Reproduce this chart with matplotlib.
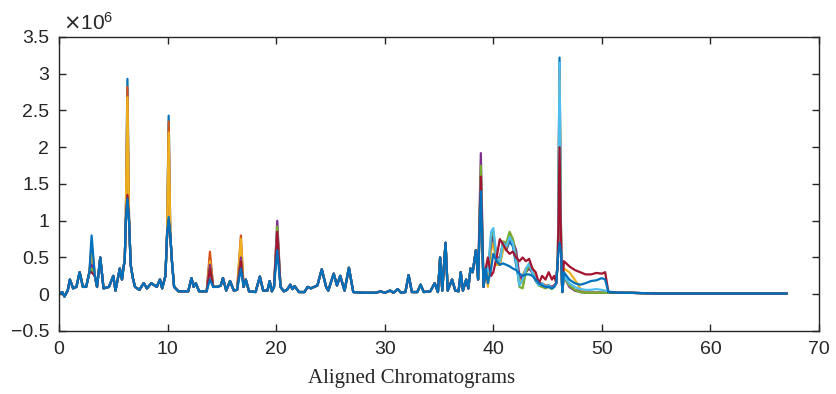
import numpy as np
import matplotlib
matplotlib.use('Agg')
import matplotlib.pyplot as plt
from matplotlib.ticker import FuncFormatter

# ---------------- data (intensity in units of 1e6) ----------------
# shared baseline profile: retention time knots and typical intensity
rt = [0.0, 0.3, 0.5, 0.8, 1.0, 1.3, 1.6, 1.9, 2.2, 2.5, 2.8, 3.3, 3.5, 3.8, 4.1,
      4.6, 5.0, 5.2, 5.6, 5.8, 5.95, 6.05, 6.15, 6.45, 6.6, 6.8, 7.0, 7.4, 7.8,
      8.1, 8.5, 9.0, 9.3, 9.5, 9.8, 9.95, 10.25, 10.4, 10.6, 11.0, 11.9, 12.2,
      12.4, 12.6, 12.9, 13.6, 14.2, 14.6, 14.9, 15.1, 15.4, 15.75, 16.1, 16.4,
      17.0, 17.2, 17.5, 18.1, 18.5, 18.8, 19.2, 19.4, 19.6, 19.8, 20.4, 20.7,
      21.0, 21.3, 21.5, 21.7, 22.1, 22.6, 22.9, 23.2, 23.5, 23.8, 24.2, 24.6,
      24.8, 25.3, 25.6, 25.9, 26.3, 26.7, 27.1, 28.0, 29.2, 29.6, 30.0, 30.5,
      30.8, 31.2, 31.5, 31.9, 32.2, 32.5, 33.0, 33.3, 33.6, 34.2, 34.6, 34.9,
      35.1, 35.3, 35.6, 35.8, 36.2, 36.5, 36.8, 37.0, 37.2, 37.5, 37.7, 37.9,
      38.1, 38.4, 38.6, 39.1, 39.3, 45.8, 45.95, 46.25, 46.35, 52.5, 55.0, 67.0]
base = [0.0, 0.03, -0.03, 0.05, 0.2, 0.08, 0.1, 0.3, 0.1, 0.1, 0.3, 0.25, 0.1,
        0.5, 0.08, 0.1, 0.25, 0.05, 0.35, 0.2, 0.38, 0.45, 1.0, 1.0, 0.4, 0.22,
        0.1, 0.06, 0.15, 0.08, 0.15, 0.1, 0.2, 0.08, 0.25, 0.8, 0.8, 0.45, 0.1,
        0.04, 0.04, 0.22, 0.1, 0.15, 0.04, 0.04, 0.1, 0.1, 0.12, 0.22, 0.05,
        0.18, 0.05, 0.06, 0.1, 0.2, 0.04, 0.03, 0.24, 0.05, 0.05, 0.18, 0.04,
        0.1, 0.1, 0.04, 0.06, 0.13, 0.07, 0.11, 0.03, 0.03, 0.1, 0.08, 0.1,
        0.12, 0.34, 0.1, 0.05, 0.28, 0.12, 0.25, 0.05, 0.36, 0.03, 0.02, 0.02,
        0.04, 0.02, 0.05, 0.02, 0.07, 0.02, 0.03, 0.26, 0.03, 0.03, 0.13, 0.03,
        0.04, 0.15, 0.03, 0.5, 0.05, 0.7, 0.05, 0.2, 0.05, 0.04, 0.3, 0.05, 0.2,
        0.08, 0.35, 0.3, 0.6, 0.2, 0.1, 0.35, 0.15, 0.5, 0.55, 0.03, 0.02, 0.01,
        0.01]

series_colors = ['#0072BD', '#D95319', '#EDB120', '#7E2F8E',
                 '#77AC30', '#4DBEEE', '#A2142F', '#0072BD']

# major peaks: apex heights per series
peak_rt = [3.0, 6.3, 10.1, 13.9, 16.75, 20.1, 38.85, 46.1]
peak_heights = [
    [0.55, 2.93, 2.43, 0.50, 0.60, 0.75, 1.40, 3.22],
    [0.70, 2.82, 2.35, 0.58, 0.80, 0.80, 1.50, 3.05],
    [0.60, 2.68, 2.20, 0.45, 0.75, 0.70, 1.30, 2.90],
    [0.40, 1.30, 1.00, 0.40, 0.50, 1.00, 1.92, 2.60],
    [0.35, 1.25, 0.95, 0.35, 0.45, 0.92, 1.75, 2.70],
    [0.30, 1.20, 0.95, 0.30, 0.40, 0.80, 1.55, 3.15],
    [0.30, 1.35, 1.00, 0.35, 0.45, 0.85, 1.60, 2.00],
    [0.80, 1.30, 1.05, 0.20, 0.35, 0.60, 1.40, 0.70],
]

# broad unresolved hump, 39.5 - 45.6 min
hump_rt = [39.5, 39.8, 40.0, 40.3, 40.6, 40.9, 41.2, 41.5, 41.8, 42.1, 42.4,
           42.7, 43.0, 43.3, 43.6, 43.9, 44.2, 44.5, 44.8, 45.1, 45.4, 45.6]
hump_levels = [
    [0.30, 0.70, 0.80, 0.45, 0.40, 0.65, 0.60, 0.72, 0.65, 0.40, 0.15, 0.20, 0.32, 0.38, 0.28, 0.18, 0.12, 0.12, 0.10, 0.10, 0.08, 0.10],
    [0.25, 0.75, 0.82, 0.50, 0.45, 0.68, 0.62, 0.80, 0.72, 0.50, 0.20, 0.25, 0.35, 0.40, 0.32, 0.20, 0.15, 0.15, 0.12, 0.12, 0.10, 0.12],
    [0.10, 0.60, 0.70, 0.40, 0.40, 0.60, 0.65, 0.82, 0.75, 0.55, 0.20, 0.15, 0.30, 0.42, 0.35, 0.20, 0.12, 0.10, 0.10, 0.12, 0.08, 0.10],
    [0.35, 0.70, 0.80, 0.50, 0.50, 0.70, 0.70, 0.75, 0.72, 0.60, 0.25, 0.20, 0.30, 0.35, 0.30, 0.20, 0.15, 0.12, 0.10, 0.12, 0.10, 0.12],
    [0.30, 0.80, 0.85, 0.45, 0.45, 0.72, 0.70, 0.85, 0.75, 0.50, 0.10, 0.08, 0.30, 0.40, 0.30, 0.20, 0.12, 0.10, 0.08, 0.10, 0.07, 0.10],
    [0.30, 0.85, 0.90, 0.50, 0.45, 0.70, 0.65, 0.78, 0.70, 0.45, 0.12, 0.20, 0.35, 0.42, 0.30, 0.20, 0.12, 0.15, 0.10, 0.12, 0.08, 0.10],
    [0.50, 0.25, 0.30, 0.50, 0.75, 0.68, 0.60, 0.55, 0.58, 0.50, 0.45, 0.50, 0.45, 0.48, 0.35, 0.30, 0.15, 0.25, 0.20, 0.30, 0.20, 0.25],
    [0.15, 0.35, 0.55, 0.45, 0.40, 0.42, 0.40, 0.38, 0.35, 0.33, 0.28, 0.25, 0.27, 0.27, 0.25, 0.20, 0.15, 0.12, 0.10, 0.10, 0.08, 0.10],
]

# tail after the last large peak, 46.5 - 51.5 min
tail_rt = [46.5, 47.0, 47.5, 48.0, 48.5, 49.0, 49.5, 50.0, 50.3, 50.6, 51.5]
tail_levels = [
    [0.25, 0.12, 0.06, 0.04, 0.02, 0.02, 0.02, 0.02, 0.02, 0.02, 0.02],
    [0.25, 0.12, 0.06, 0.04, 0.03, 0.02, 0.02, 0.02, 0.02, 0.02, 0.02],
    [0.35, 0.30, 0.20, 0.08, 0.03, 0.02, 0.02, 0.02, 0.02, 0.02, 0.02],
    [0.25, 0.10, 0.05, 0.03, 0.02, 0.02, 0.02, 0.02, 0.02, 0.02, 0.02],
    [0.25, 0.12, 0.06, 0.03, 0.02, 0.02, 0.02, 0.02, 0.02, 0.02, 0.02],
    [0.25, 0.15, 0.10, 0.07, 0.06, 0.06, 0.07, 0.06, 0.05, 0.04, 0.02],
    [0.45, 0.38, 0.33, 0.30, 0.27, 0.27, 0.29, 0.28, 0.30, 0.03, 0.02],
    [0.30, 0.20, 0.15, 0.13, 0.15, 0.18, 0.19, 0.22, 0.20, 0.03, 0.02],
]

# ---------------- figure ----------------
fig = plt.figure(figsize=(8.36, 3.94), dpi=100)
ax = fig.add_axes([0.0706, 0.1599, 0.9091, 0.7462])

for k, color in enumerate(series_colors):
    vals = dict(zip(rt, base))
    vals.update(zip(peak_rt, peak_heights[k]))
    vals.update(zip(hump_rt, hump_levels[k]))
    vals.update(zip(tail_rt, tail_levels[k]))
    t = sorted(vals)
    ax.plot(t, [vals[x] for x in t], color=color, lw=1.6)

ax.set_xlim(0, 70)
ax.set_ylim(-0.5, 3.5)
ax.set_xticks(np.arange(0, 71, 10))
ax.set_yticks(np.arange(-0.5, 3.51, 0.5))
ax.yaxis.set_major_formatter(FuncFormatter(lambda v, p: ('%g' % v).replace('-', '\u2212')))

tick_font = 'Liberation Sans'
for lab in ax.get_xticklabels() + ax.get_yticklabels():
    lab.set_fontfamily(tick_font)
ax.tick_params(direction='in', top=True, right=True, length=5, width=1.0,
               labelsize=14, pad=7, colors='#262626')
for s in ax.spines.values():
    s.set_linewidth(1.0)
    s.set_color('#262626')

ax.set_xlabel('Aligned Chromatograms', family='Liberation Serif', fontsize=15,
              color='#262626')
ax.xaxis.set_label_coords(0.464, -0.128)
ax.text(0.005, 1.01, r'$\times\mathregular{10^{6}}$', transform=ax.transAxes,
        fontsize=15, family=tick_font, ha='left', va='bottom', color='#262626')

fig.savefig('out.png', dpi=100)
